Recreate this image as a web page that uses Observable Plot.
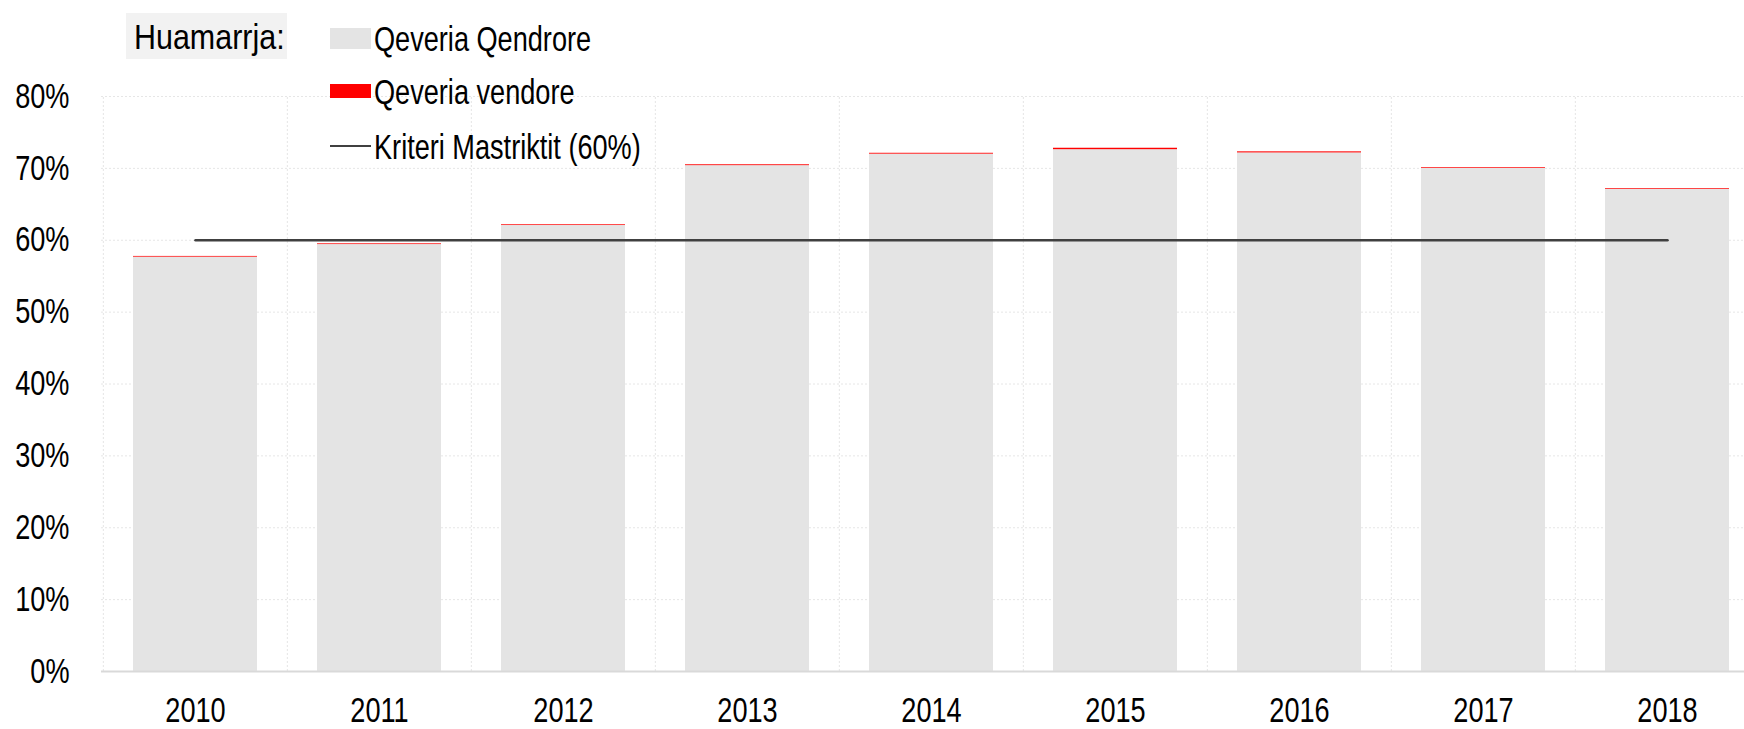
<!DOCTYPE html>
<html>
<head>
<meta charset="utf-8">
<script src="https://cdn.jsdelivr.net/npm/d3@7"></script>
<script src="https://cdn.jsdelivr.net/npm/@observablehq/plot@0.6"></script>
<style>
  html, body { margin: 0; padding: 0; background: #fff; }
  #wrap { position: relative; width: 1744px; height: 729px; overflow: hidden;
          font-family: "Liberation Sans Narrow", "Arial Narrow", "Liberation Sans", Arial, sans-serif; }
  #wrap svg { position: absolute; left: 0; top: 0; }
  .lg { position: absolute; font-size: 35px; color: #000; white-space: nowrap; line-height: 1;
        transform-origin: left center; transform: scaleX(0.775); }
  .sw { position: absolute; }
</style>
</head>
<body>
<div id="wrap"></div>
<script>
const years = [2010, 2011, 2012, 2013, 2014, 2015, 2016, 2017, 2018];
const central = [57.65, 59.4, 62.05, 70.38, 71.98, 72.6, 72.15, 70.0, 67.1];
const local = [0.1, 0.1, 0.1, 0.12, 0.12, 0.2, 0.15, 0.1, 0.1];
const seriesNames = ["Qeveria Qendrore", "Qeveria vendore"];
const seriesColors = ["#e4e4e4", "#ff0000"];
const yTicks = [0, 10, 20, 30, 40, 50, 60, 70, 80];
const criterion = 60;
const criterionName = "Kriteri Mastriktit (60%)";
const legendTitle = "Huamarrja:";

const data = years.flatMap((yr, i) => [
  {year: yr, series: seriesNames[0], value: central[i]},
  {year: yr, series: seriesNames[1], value: local[i]}
]);
const refLine = [{year: years[0], v: criterion}, {year: years[years.length - 1], v: criterion}];

const chart = Plot.plot({
  width: 1744, height: 729,
  marginLeft: 101, marginRight: 0, marginTop: 96, marginBottom: 58,
  style: {fontFamily: '"Liberation Sans", Arial, sans-serif', fontSize: "35px", color: "#000", background: "transparent", overflow: "visible"},
  x: {type: "band", domain: years, range: [101, 1760], paddingInner: 0.327, paddingOuter: 0.1635, label: null, tickSize: 0, tickPadding: 26, tickFormat: d => String(d)},
  y: {domain: [0, 80], ticks: yTicks, tickFormat: d => d + "%", tickSize: 0, tickPadding: 32, label: null},
  color: {domain: seriesNames, range: seriesColors},
  marks: [
    Plot.ruleY(yTicks.filter(d => d > 0), {stroke: "#e6e6e6", strokeDasharray: "2,2", strokeWidth: 1}),
    Plot.ruleX(years, {x: d => d, y1: 0, y2: 80, dx: -92.15, stroke: "#e6e6e6", strokeDasharray: "2,2", strokeWidth: 1}),
    Plot.barY(data, {x: "year", y: "value", fill: "series", order: seriesNames}),
    Plot.ruleY([0], {stroke: "#d9d9d9", strokeWidth: 2}),
    Plot.lineY(refLine, {x: "year", y: "v", stroke: "#404040", strokeWidth: 2.5})
  ]
});
const wrap = document.getElementById("wrap");
wrap.appendChild(chart);

// condense axis text (narrow typeface look)
chart.querySelectorAll("text").forEach(t => {
  const w = t.getComputedTextLength();
  if (w > 0) {
    t.setAttribute("textLength", (w * 0.775).toFixed(2));
    t.setAttribute("lengthAdjust", "spacingAndGlyphs");
  }
});

// Legend overlay
function add(txt, cls, css) {
  const d = document.createElement("div");
  d.className = cls;
  Object.assign(d.style, css);
  d.textContent = txt;
  wrap.appendChild(d);
  return d;
}
add("", "sw", {left: "126px", top: "13px", width: "161px", height: "46px", background: "#f2f2f2"});
add(legendTitle, "lg", {left: "134px", top: "19px", transform: "scaleX(0.87)"});
add("", "sw", {left: "330px", top: "28px", width: "41px", height: "21px", background: seriesColors[0]});
add(seriesNames[0], "lg", {left: "374px", top: "21px"});
add("", "sw", {left: "330px", top: "84px", width: "41px", height: "14px", background: seriesColors[1]});
add(seriesNames[1], "lg", {left: "374px", top: "74px"});
add("", "sw", {left: "330px", top: "145px", width: "41px", height: "2px", background: "#404040"});
add(criterionName, "lg", {left: "374px", top: "129px"});
</script>
</body>
</html>
